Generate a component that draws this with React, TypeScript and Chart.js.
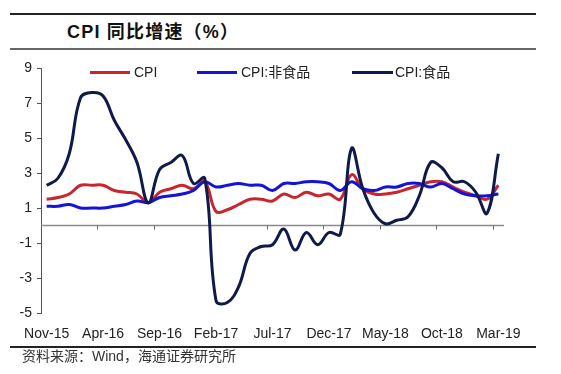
import React, { useEffect, useRef } from "react";
import { Chart, registerables } from "chart.js";

Chart.register(...registerables);

const months = [
  "Nov-15", "Dec-15",
  "Jan-16", "Feb-16", "Mar-16", "Apr-16", "May-16", "Jun-16", "Jul-16", "Aug-16", "Sep-16", "Oct-16", "Nov-16", "Dec-16",
  "Jan-17", "Feb-17", "Mar-17", "Apr-17", "May-17", "Jun-17", "Jul-17", "Aug-17", "Sep-17", "Oct-17", "Nov-17", "Dec-17",
  "Jan-18", "Feb-18", "Mar-18", "Apr-18", "May-18", "Jun-18", "Jul-18", "Aug-18", "Sep-18", "Oct-18", "Nov-18", "Dec-18",
  "Jan-19", "Feb-19", "Mar-19",
];

const cpi = [
  1.5, 1.6,
  1.8, 2.3, 2.3, 2.3, 2.0, 1.9, 1.8, 1.3, 1.9, 2.1, 2.3, 2.1,
  2.5, 0.8, 0.9, 1.2, 1.5, 1.5, 1.4, 1.8, 1.6, 1.9, 1.7, 1.8,
  1.5, 2.9, 2.1, 1.8, 1.8, 1.9, 2.1, 2.3, 2.5, 2.5, 2.2, 1.9,
  1.7, 1.5, 2.3,
];

const cpiNonFood = [
  1.1, 1.1,
  1.2, 1.0, 1.0, 1.0, 1.1, 1.2, 1.4, 1.3, 1.6, 1.7, 1.8, 2.0,
  2.5, 2.2, 2.3, 2.4, 2.3, 2.3, 2.0, 2.4, 2.4, 2.5, 2.5, 2.4,
  2.0, 2.5, 2.1, 2.0, 2.2, 2.2, 2.4, 2.4, 2.2, 2.4, 2.1, 1.8,
  1.7, 1.7, 1.8,
];

const cpiFood = [
  2.3, 2.7,
  4.1, 7.3, 7.6, 7.4, 6.0, 4.9, 3.6, 1.3, 3.2, 3.6, 4.0, 2.4,
  2.7, -4.3, -4.4, -3.5, -1.6, -1.2, -1.1, -0.2, -1.4, -0.4, -1.1, -0.4,
  -0.5, 4.4, 2.1, 0.7, 0.1, 0.3, 0.5, 1.7, 3.6, 3.3, 2.5, 2.5,
  1.9, 0.7, 4.1,
];

const yTicks = [-5, -3, -1, 1, 3, 5, 7, 9];

const seriesNames = ["CPI", "CPI:非食品", "CPI:食品"];
const seriesColors = ["#C8262C", "#1414D8", "#0E1A4A"];

const LATIN = '"Liberation Sans", Arial, "Noto Sans CJK SC", sans-serif';
const CJK = '"Liberation Sans", "Noto Sans CJK SC", sans-serif';

const zeroAxisPlugin = {
  id: "zeroAxis",
  beforeDatasetsDraw(chart: any) {
    const { ctx, chartArea, scales } = chart;
    const x = scales.x;
    const y = scales.y;
    const y0 = y.getPixelForValue(0);
    const half = (x.getPixelForValue(1) - x.getPixelForValue(0)) / 2;
    ctx.save();
    ctx.strokeStyle = "#8a8a8a";
    ctx.lineWidth = 1.5;
    ctx.beginPath();
    ctx.moveTo(chartArea.left, y0);
    ctx.lineTo(chartArea.right, y0);
    ctx.stroke();
    ctx.lineWidth = 1;
    ctx.strokeStyle = "#666";
    for (let i = 5; i < months.length; i += 5) {
      const px = Math.round(x.getPixelForValue(i) - half) + 0.5;
      ctx.beginPath();
      ctx.moveTo(px, y0);
      ctx.lineTo(px, y0 + 4);
      ctx.stroke();
    }
    ctx.restore();
  },
};

export default function App() {
  const canvasRef = useRef<HTMLCanvasElement>(null);

  useEffect(() => {
    const canvas = canvasRef.current;
    if (!canvas) return;
    const datasets = [cpi, cpiNonFood, cpiFood].map((data, i) => ({
      label: seriesNames[i],
      data,
      borderColor: seriesColors[i],
      backgroundColor: seriesColors[i],
      borderWidth: 3,
      pointRadius: 0,
      tension: 0.4,
      fill: false,
      order: 2 - i,
    }));
    const chart = new Chart(canvas, {
      type: "line",
      data: { labels: months, datasets },
      options: {
        animation: false,
        responsive: false,
        maintainAspectRatio: false,
        devicePixelRatio: 1,
        layout: { padding: { left: 0, top: 68, right: 57, bottom: 0 } },
        plugins: {
          legend: { display: false },
          tooltip: { enabled: false },
          title: { display: false },
        },
        scales: {
          x: {
            type: "category",
            offset: true,
            grid: { display: false, drawTicks: false },
            border: { display: false },
            ticks: {
              autoSkip: false,
              maxRotation: 0,
              minRotation: 0,
              padding: 13,
              color: "#222",
              font: { family: LATIN, size: 14 },
              callback: (_v: any, i: number) => (i % 5 === 0 ? months[i] : ""),
            },
            afterFit: (s: any) => {
              s.height = 61;
            },
          },
          y: {
            min: -5,
            max: 9,
            afterBuildTicks: (s: any) => {
              s.ticks = yTicks.map((v) => ({ value: v }));
            },
            grid: {
              drawOnChartArea: false,
              drawTicks: true,
              tickLength: 4,
              tickColor: "#555",
              color: "#555",
            },
            border: { display: true, color: "#555", width: 1 },
            ticks: {
              padding: 5,
              color: "#222",
              font: { family: LATIN, size: 14 },
            },
            afterFit: (s: any) => {
              s.width = 41;
            },
          },
        },
      },
      plugins: [zeroAxisPlugin],
    });
    return () => chart.destroy();
  }, []);

  const legendItems = [
    { line: [90, 130], text: 134 },
    { line: [197, 237], text: 241 },
    { line: [352, 393], text: 395 },
  ];

  return (
    <div
      style={{
        position: "fixed",
        left: 0,
        top: 0,
        width: 561,
        height: 374,
        background: "#fff",
        overflow: "hidden",
      }}
    >
      <div style={{ position: "absolute", left: 10, top: 13, width: 526, height: 2, background: "#222" }} />
      <div
        style={{
          position: "absolute",
          left: 67,
          top: 21,
          lineHeight: "22px",
          fontSize: 18,
          fontWeight: "bold",
          fontFamily: CJK,
          letterSpacing: "1.2px",
          color: "#111",
          whiteSpace: "nowrap",
        }}
      >
        CPI 同比增速（%）
      </div>
      <div style={{ position: "absolute", left: 10, top: 48, width: 526, height: 2, background: "#666" }} />
      <canvas
        ref={canvasRef}
        width={561}
        height={374}
        style={{ position: "absolute", left: 0, top: 0, width: 561, height: 374 }}
      />
      {legendItems.map((it, i) => (
        <React.Fragment key={i}>
          <div
            style={{
              position: "absolute",
              left: it.line[0],
              top: 71,
              width: it.line[1] - it.line[0],
              height: 3,
              background: seriesColors[i],
            }}
          />
          <div
            style={{
              position: "absolute",
              left: it.text,
              top: 63,
              lineHeight: "18px",
              fontSize: 14,
              fontFamily: CJK,
              color: "#222",
              whiteSpace: "nowrap",
            }}
          >
            {seriesNames[i]}
          </div>
        </React.Fragment>
      ))}
      <div style={{ position: "absolute", left: 10, top: 346, width: 526, height: 2, background: "#222" }} />
      <div
        style={{
          position: "absolute",
          left: 22,
          top: 347,
          lineHeight: "18px",
          fontSize: 14,
          fontFamily: CJK,
          color: "#333",
          whiteSpace: "nowrap",
        }}
      >
        资料来源：Wind，海通证券研究所
      </div>
    </div>
  );
}
